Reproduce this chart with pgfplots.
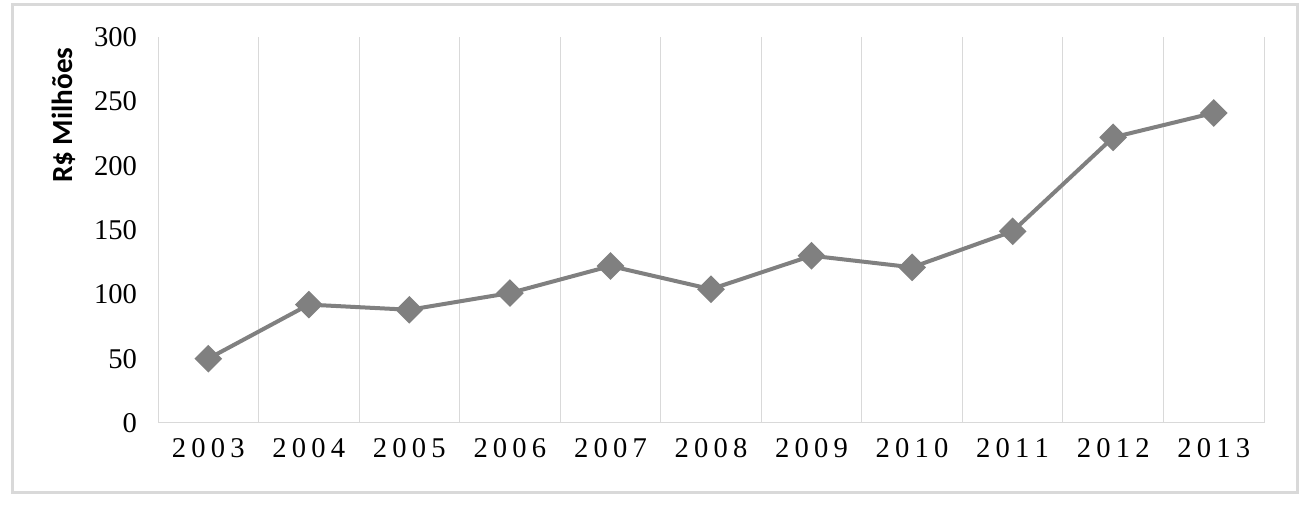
\documentclass[border=0pt]{standalone}
\usepackage{fontspec}
\setmainfont{Liberation Serif}
\newfontfamily\labelfont{Carlito}
\usepackage{pgfplots}
\pgfplotsset{compat=1.18}
\definecolor{gridgray}{RGB}{217,217,217}
\definecolor{linegray}{RGB}{128,128,128}
% spaced-out year labels, as in the original
\newcommand{\yr}[4]{#1\kern2.6pt#2\kern2.6pt#3\kern2.6pt#4}

\begin{document}
\begin{tikzpicture}
\path[use as bounding box, fill=white] (0,0) rectangle (656pt,253pt);
\draw[gridgray, line width=1.5pt] (6pt,6.5pt) rectangle (648.5pt,250.5pt);
\begin{axis}[
    at={(79pt,41.5pt)}, anchor=south west,
    scale only axis, width=553pt, height=193pt,
    xmin=-0.5, xmax=10.5, ymin=0, ymax=300,
    xtick={0,...,10},
    xticklabels={\yr 2003,\yr 2004,\yr 2005,\yr 2006,\yr 2007,\yr 2008,\yr 2009,\yr 2010,\yr 2011,\yr 2012,\yr 2013},
    minor xtick={-0.5,0.5,...,10.5},
    xminorgrids,
    minor grid style={gridgray, line width=0.5pt},
    ytick={0,50,...,300},
    major tick length=0, minor tick length=0,
    axis x line*=bottom, axis y line*=left,
    x axis line style={gridgray, line width=0.5pt, -},
    y axis line style={draw=none},
    ticklabel style={font=\fontsize{14.3}{16}\selectfont},
    /pgf/number format/assume math mode=true,
    yticklabel style={xshift=-7pt},
    xticklabel style={yshift=-4pt},
    ylabel={R\$ Milhões},
    ylabel style={font=\labelfont\bfseries\fontsize{14.6}{16}\selectfont,
        at={(axis description cs:-0.085,0.974)}, anchor=east, inner sep=0pt},
]
\addplot[color=linegray, line width=2pt, mark=square*, mark size=3.9pt,
    mark options={solid, rotate=45, fill=linegray}] coordinates {
    (0,50) (1,92) (2,88) (3,101) (4,122) (5,104)
    (6,130) (7,121) (8,149) (9,222) (10,241)
};
\end{axis}
\end{tikzpicture}
\end{document}
